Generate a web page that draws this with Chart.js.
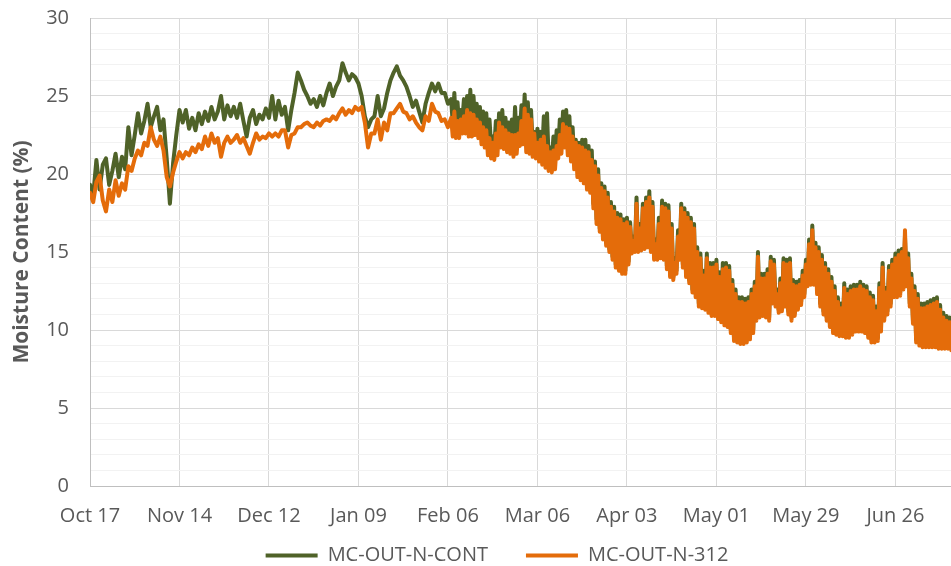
<!DOCTYPE html>
<html>
<head>
<meta charset="utf-8">
<script src="https://cdn.jsdelivr.net/npm/chart.js@4"></script>
<style>
html,body{margin:0;padding:0;background:#ffffff;}
#wrap{width:951px;height:566px;position:relative;}
</style>
</head>
<body>
<div id="wrap"><canvas id="c"></canvas></div>
<script>
// x axis = days since Oct 17
const tickLabels = ['Oct 17','Nov 14','Dec 12','Jan 09','Feb 06','Mar 06','Apr 03','May 01','May 29','Jun 26'];
const seriesNames = ['MC-OUT-N-CONT','MC-OUT-N-312'];
const yTitle = 'Moisture Content (%)';

// one reading per day, days 0..112
const contDaily = [
19.3,18.6,20.9,19.0,20.6,21.0,19.3,20.2,21.3,19.8,
21.1,20.3,23.0,21.2,22.5,23.9,22.6,23.4,24.5,23.0,
23.7,24.3,22.8,23.5,21.0,18.1,20.7,22.5,24.1,23.3,
24.1,22.9,23.6,22.8,23.9,23.2,24.0,23.4,24.3,23.5,
24.0,25.0,23.5,24.4,23.7,24.3,23.6,24.5,23.4,22.4,
23.6,24.1,23.2,23.8,23.5,24.2,23.6,25.0,23.5,24.7,
23.8,24.3,22.8,24.1,25.2,26.5,26.0,25.4,25.0,24.5,
24.8,24.3,25.0,24.4,25.2,25.8,25.0,25.6,26.0,27.1,
26.5,26.0,26.4,26.2,25.8,25.0,23.7,23.0,23.5,23.7,
25.0,23.7,24.2,25.2,26.0,26.5,26.9,26.3,26.0,25.6,
25.0,24.3,24.7,24.0,23.3,24.5,25.2,25.8,25.3,25.8,
25.2,25.2,24.5
];
const n312Daily = [
18.8,18.2,19.5,19.9,18.3,17.6,19.0,18.2,19.6,18.6,
19.4,19.0,20.5,20.2,21.0,21.5,21.2,22.0,21.8,23.0,
22.2,21.8,22.4,21.5,19.8,19.2,20.1,20.8,21.4,21.0,
21.4,21.2,21.7,21.4,21.9,21.6,22.4,21.8,22.6,22.0,
22.3,21.1,22.0,22.4,22.0,22.2,22.5,22.0,22.3,21.8,
21.3,22.0,22.6,22.2,22.4,22.3,22.6,22.4,22.6,22.4,
22.8,22.8,21.7,22.5,22.6,23.0,23.0,23.2,23.3,23.1,
23.0,23.3,23.1,23.4,23.5,23.4,23.7,23.5,23.9,24.2,
23.8,24.1,23.9,24.3,24.1,24.3,23.3,21.7,22.6,22.6,
23.5,22.2,23.3,22.8,23.9,23.9,24.2,24.5,24.0,23.9,
23.5,23.7,23.3,23.0,22.8,23.7,23.4,24.5,24.0,23.9,
23.4,23.5,23.0
];

// two readings per day (daily high, then daily low), days 113..269
const springStart = 113;
const contTwiceDaily = [
24.8,23.2, 25.2,23.1, 24.6,23.1, 24.1,23.4, 24.8,23.4, 25.0,23.2, 25.4,23.2, 25.0,23.3, 24.5,23.1, 24.3,22.7,
24.0,22.5, 23.9,22.0, 23.5,21.8, 22.4,21.7, 23.4,22.0, 23.9,22.5, 24.1,22.4, 23.6,22.2, 23.3,22.1, 23.5,21.9,
24.3,22.1, 23.6,22.6, 24.4,22.7, 25.1,22.2, 24.6,22.1, 24.1,21.9, 22.7,21.8, 22.9,21.6, 22.7,21.4, 23.7,21.2,
23.9,21.0, 21.7,20.9, 22.4,21.0, 22.8,21.6, 23.5,21.9, 24.0,22.2, 24.1,21.8, 23.7,21.4, 23.0,20.9, 22.2,20.3,
22.0,20.0, 22.2,19.8, 22.2,19.4, 21.8,19.1, 21.5,18.1, 20.8,17.1, 20.3,16.5, 19.4,16.0, 19.2,15.6, 18.8,15.2,
18.2,14.7, 17.9,14.2, 17.5,14.0, 17.4,13.8, 17.1,13.8, 17.2,14.4, 16.9,15.1, 16.0,15.2, 18.5,15.2, 16.8,15.3,
18.1,15.4, 18.5,15.5, 18.9,15.2, 18.2,14.7, 15.8,14.7, 17.2,14.8, 18.3,14.7, 18.1,14.1, 18.0,13.6, 16.8,13.4,
14.6,13.8, 16.4,14.7, 18.1,14.2, 17.8,13.6, 17.5,13.2, 17.2,12.6, 16.8,12.3, 15.3,11.7, 14.9,11.6, 13.8,11.5,
14.9,11.3, 14.3,11.1, 14.3,11.1, 14.5,10.9, 13.7,10.7, 14.3,10.5, 14.3,10.4, 14.1,10.0, 13.2,9.5, 12.6,9.4,
12.1,9.3, 12.1,9.3, 12.0,9.4, 12.1,9.6, 12.6,10.0, 13.1,10.8, 15.0,11.0, 13.6,11.1, 13.6,11.0, 13.9,10.8,
14.7,11.9, 14.5,11.7, 12.6,11.3, 13.3,11.4, 14.6,11.7, 14.5,11.2, 14.6,10.8, 13.2,11.1, 13.1,11.5, 13.2,11.8,
13.8,12.3, 14.5,13.0, 15.8,13.1, 16.7,13.1, 15.6,12.5, 15.3,11.7, 14.8,11.2, 14.3,10.8, 13.9,10.4, 13.4,10.0,
12.8,9.9, 12.1,9.8, 11.7,9.8, 13.0,9.7, 12.6,9.7, 12.8,9.9, 12.9,10.1, 12.9,10.1, 13.1,10.1, 12.9,10.0,
12.8,9.7, 12.4,9.4, 12.2,9.4, 11.5,9.5, 13.0,10.1, 14.3,10.8, 12.7,11.2, 14.1,11.7, 14.5,12.3, 14.9,12.3,
15.1,12.4, 15.2,12.8, 16.0,13.0, 14.9,11.7, 13.6,10.6, 12.8,9.4, 12.3,9.2, 11.7,9.1, 11.7,9.1, 11.8,9.1,
11.9,9.1, 12.0,9.1, 12.1,9.0, 11.6,9.0, 11.1,9.0, 10.9,9.0, 10.8,8.9
];
const n312TwiceDaily = [
23.6,22.4, 24.0,22.3, 23.4,22.3, 23.5,22.6, 23.7,22.6, 24.1,22.4, 23.9,22.4, 23.8,22.5, 23.5,22.3, 23.3,21.9,
23.0,21.7, 22.8,21.2, 22.3,21.0, 22.0,20.9, 22.6,21.2, 23.3,21.7, 23.0,21.6, 22.8,21.4, 22.6,21.3, 22.5,21.1,
22.5,21.3, 22.6,21.8, 23.4,21.9, 24.2,21.4, 23.8,21.3, 23.5,21.1, 22.6,21.0, 22.0,20.8, 22.2,20.6, 22.4,20.4,
21.8,20.2, 21.4,20.1, 21.5,20.3, 21.8,21.0, 22.5,21.3, 23.2,21.7, 23.0,21.2, 22.9,20.8, 22.4,20.3, 22.0,19.8,
21.8,19.6, 21.7,19.4, 21.5,19.0, 21.4,18.8, 20.9,17.8, 20.5,16.8, 19.9,16.3, 19.1,15.8, 18.9,15.4, 18.5,15.0,
17.9,14.5, 17.6,14.0, 17.2,13.8, 17.1,13.6, 16.8,13.6, 16.9,14.2, 16.6,14.9, 15.7,15.0, 18.1,15.0, 16.5,15.1,
17.8,15.2, 18.2,15.3, 18.5,15.0, 17.9,14.5, 15.5,14.5, 16.8,14.6, 17.9,14.5, 17.8,13.9, 17.6,13.4, 16.5,13.2,
14.3,13.6, 16.0,14.5, 17.8,14.0, 17.5,13.4, 17.2,13.0, 16.9,12.4, 16.5,12.1, 15.0,11.5, 14.6,11.4, 13.5,11.3,
14.6,11.1, 14.0,10.9, 14.0,10.9, 14.2,10.7, 13.4,10.5, 13.9,10.3, 14.0,10.2, 13.8,9.8, 12.9,9.3, 12.3,9.2,
11.8,9.1, 11.8,9.1, 11.7,9.2, 11.8,9.4, 12.3,9.8, 12.8,10.6, 14.7,10.8, 13.3,10.9, 13.3,10.8, 13.6,10.6,
14.4,11.7, 14.2,11.5, 12.3,11.1, 13.0,11.2, 14.3,11.5, 14.2,11.0, 14.3,10.6, 12.9,10.9, 12.8,11.3, 12.9,11.6,
13.5,12.1, 14.2,12.8, 15.5,12.9, 16.4,12.9, 15.3,12.3, 15.0,11.5, 14.5,11.0, 14.0,10.6, 13.6,10.2, 13.1,9.8,
12.5,9.7, 11.8,9.6, 11.4,9.6, 12.7,9.5, 12.3,9.5, 12.5,9.7, 12.6,9.9, 12.6,9.9, 12.8,9.9, 12.6,9.8,
12.5,9.5, 12.1,9.2, 11.9,9.2, 11.2,9.3, 12.7,9.9, 14.0,10.6, 12.4,11.0, 13.8,11.5, 14.2,12.1, 14.6,12.1,
14.8,12.2, 15.0,12.6, 16.4,12.8, 14.6,11.5, 13.3,10.4, 12.5,9.2, 12.0,9.0, 11.4,8.9, 11.4,8.9, 11.5,8.9,
11.6,8.9, 11.7,8.9, 11.8,8.8, 11.3,8.8, 10.8,8.8, 10.6,8.8, 10.5,8.7
];

const GREEN = '#4F6228';
const ORANGE = '#E46C0A';
const TXT = '#595959';

function buildPoints(daily, twiceDaily) {
  const pts = daily.map((v, i) => ({x: i, y: v}));
  twiceDaily.forEach((v, j) => pts.push({x: springStart + j / 2, y: v}));
  return pts;
}

Chart.defaults.font.family = "'Open Sans', 'Liberation Sans', sans-serif";
Chart.defaults.font.size = 20;
Chart.defaults.color = TXT;

new Chart(document.getElementById('c'), {
  type: 'line',
  data: {
    datasets: [
      {label: seriesNames[0], data: buildPoints(contDaily, contTwiceDaily), borderColor: GREEN, backgroundColor: GREEN,
       borderWidth: 4, pointRadius: 0, tension: 0, borderJoinStyle: 'round', borderCapStyle: 'round', order: 1},
      {label: seriesNames[1], data: buildPoints(n312Daily, n312TwiceDaily), borderColor: ORANGE, backgroundColor: ORANGE,
       borderWidth: 4, pointRadius: 0, tension: 0, borderJoinStyle: 'round', borderCapStyle: 'round', order: 0}
    ]
  },
  options: {
    responsive: true,
    maintainAspectRatio: false,
    animation: false,
    layout: {autoPadding: false, padding: {top: 18, right: -43, bottom: 0, left: 0}},
    plugins: {
      tooltip: {enabled: false},
      legend: {
        position: 'bottom',
        maxHeight: 38,
        title: {display: true, text: '', font: {size: 10, lineHeight: 1}, padding: {top: -30.5, bottom: 0}},
        labels: {
          boxWidth: 52, boxHeight: 4, padding: 38, color: TXT, font: {size: 20},
          generateLabels: (chart) => Chart.defaults.plugins.legend.labels.generateLabels(chart)
            .map(it => Object.assign(it, {lineWidth: 0})),
          sort: (a, b) => a.datasetIndex - b.datasetIndex
        }
      }
    },
    scales: {
      x: {
        type: 'linear', min: 0, max: 269.4,
        grid: {color: '#D9D9D9', drawTicks: false},
        border: {color: '#BFBFBF'},
        ticks: {stepSize: 28, includeBounds: false, autoSkip: false, maxRotation: 0, padding: 20,
                color: TXT, font: {size: 20, lineHeight: 1},
                callback: v => (v % 28 === 0 && tickLabels[v / 28] ? tickLabels[v / 28] : '')},
        afterFit: s => { s.height = 42; s.paddingLeft = 0; s.paddingRight = 0; }
      },
      y: {
        min: 0, max: 30,
        grid: {color: c => (c.tick && c.tick.value % 5 === 0 ? '#D9D9D9' : '#F2F2F2'), drawTicks: false},
        border: {color: '#BFBFBF'},
        ticks: {stepSize: 1, autoSkip: false, padding: 21, color: TXT, font: {size: 20},
                callback: v => (v % 5 === 0 ? String(v) : '')},
        title: {display: true, text: yTitle, color: TXT, font: {size: 21, weight: 'bold'},
                padding: {top: 9, bottom: 12}},
        afterFit: s => { s.width = 90; s.paddingTop = 0; s.paddingBottom = 0; }
      }
    }
  }
});
</script>
</body>
</html>
